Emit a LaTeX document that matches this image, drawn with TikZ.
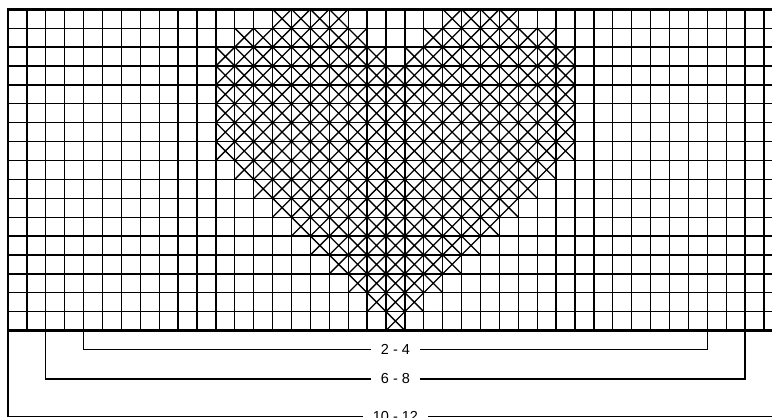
\documentclass[tikz,border=0pt]{standalone}
\usepackage{fontspec}
\setmainfont{Liberation Sans}
\begin{document}
\begin{tikzpicture}[x=18.9pt, y=-18.9pt, line width=1.3pt,
    cross/.style={line width=1.3pt},
    sizelabel/.style={fill=white, inner xsep=9pt, inner ysep=1pt,
      font=\fontsize{14.5}{17}\selectfont}]
    \useasboundingbox (-0.423,-0.49) rectangle (40.423,21.625);
    \clip (-0.423,-0.49) rectangle (40.423,21.625);
    % --- siatka ---
    \foreach \x in {0,...,41} {
      \draw (\x,0) -- (\x,17);
    }
    \foreach \y in {0,...,17} {
      \draw (0,\y) -- (41,\y);
    }
    \draw[line width=2.5pt] (41,0) -- (0,0) -- (0,17) -- (41,17);
    % --- serce: wiersz / od kolumny / do kolumny ---
    \foreach \r/\a/\b in {0/14/17, 0/23/26, 1/12/18, 1/22/28, 2/11/19, 2/21/29,
        3/11/29, 4/11/29, 5/11/29, 6/11/29, 7/11/29, 8/12/28, 9/13/27,
        10/14/26, 11/15/25, 12/16/24, 13/17/23, 14/18/22, 15/19/21, 16/20/20} {
      \foreach \c in {\a,...,\b} {
        \draw[cross] (\c,\r) -- ++(1,1) (\c+1,\r) -- ++(-1,1);
      }
    }
    % --- rozmiary ---
    \node[sizelabel] (size24) at (20.5,18) {2 - 4};
    \node[sizelabel] (size68) at (20.5,19.56) {6 - 8};
    \node[sizelabel] (size1012) at (20.5,21.56) {10 - 12};
    \coordinate (size24l) at (4,17);
    \coordinate (size24r) at (37,17);
    \coordinate (size68l) at (2,17);
    \coordinate (size68r) at (39,17);
    \coordinate (size1012l) at (0,17);
    \coordinate (size1012r) at (41,17);
    \draw (size24l) |- (size24.west);
    \draw (size24r) |- (size24.east);
    \draw (size68l) |- (size68.west);
    \draw (size68r) |- (size68.east);
    \draw (size1012l) |- (size1012.west);
    \draw (size1012r) |- (size1012.east);
  \end{tikzpicture}
\end{document}
